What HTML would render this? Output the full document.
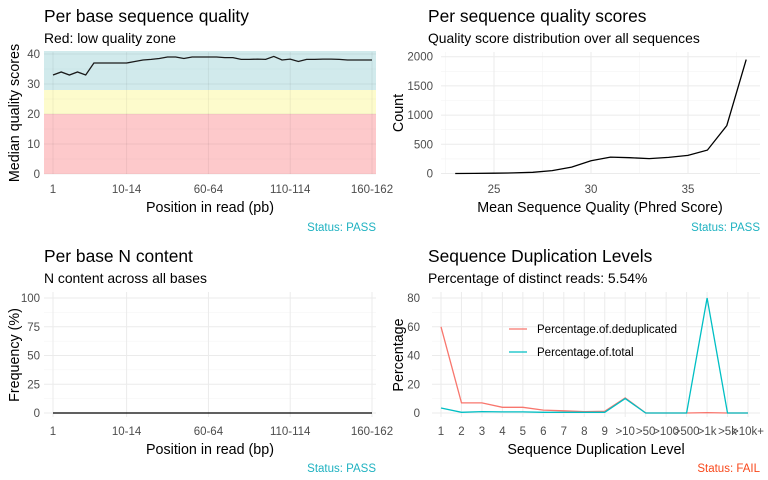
<!DOCTYPE html>
<html><head><meta charset="utf-8">
<style>
html,body{margin:0;padding:0;background:#fff;}
svg{display:block;font-family:"Liberation Sans",sans-serif;}
</style></head>
<body>
<svg id="c" width="768" height="480" viewBox="0 0 768 480"></svg>
<script>
// Panel 1 data
const p1Cats = ["1","2","3","4","5","6","7","8","9","10-14","15-19","20-24","25-29","30-34","35-39","40-44","45-49","50-54","55-59","60-64","65-69","70-74","75-79","80-84","85-89","90-94","95-99","100-104","105-109","110-114","115-119","120-124","125-129","130-134","135-139","140-144","145-149","150-154","155-159","160-162"];
const p1Vals = [33,34,33,34,33,37,37,37,37,37,37.5,38,38.2,38.5,39,39,38.5,39,39,39,39,38.8,38.8,38.2,38.2,38.3,38.2,39.2,38,38.3,37.5,38.2,38.2,38.3,38.3,38.2,38,38,38,38];
const p1TickLabels = ["1","10-14","60-64","110-114","160-162"];
const p1YTicks = [0,10,20,30,40];
// Panel 2 data
const p2X = [23,24,25,26,27,28,29,30,31,32,33,34,35,36,37,38];
const p2Y = [0,2,5,10,20,50,110,220,280,270,255,275,310,400,820,1950];
const p2XTicks = [25,30,35];
const p2YTicks = [0,500,1000,1500,2000];
// Panel 3 data
const p3Vals = p1Cats.map(()=>0);
const p3YTicks = [0,25,50,75,100];
// Panel 4 data
const p4Cats = ["1","2","3","4","5","6","7","8","9",">10",">50",">100",">500",">1k",">5k",">10k+"];
const p4Dedup = [60,7,7,4,4,2,1.5,1,1.2,10.5,0,0,0,0.3,0,0];
const p4Total = [3.5,0.5,1,0.8,0.8,0.5,0.5,0.5,0.5,10,0,0,0,80,0,0];
const p4YTicks = [0,20,40,60,80];

const svg = document.getElementById('c');
const NS = 'http://www.w3.org/2000/svg';
const TS=11.5, ST=13.9, AT=14.3, HT=17.4;
function mk(tag, attrs, parent, text){
  const e = document.createElementNS(NS, tag);
  for (const k in attrs) e.setAttribute(k, attrs[k]);
  if (text !== undefined) e.textContent = text;
  (parent||svg).appendChild(e);
  return e;
}
function txt(x,y,s,size,color,anchor,name,extra){
  const t = mk('text',Object.assign({x:x,y:y,'font-size':size,fill:color,'text-anchor':anchor||'start'},extra||{}),svg,s);
  
  
  return t;
}
function line(x1,y1,x2,y2,stroke,w,name){
  const l = mk('line',{x1:x1,y1:y1,x2:x2,y2:y2,stroke:stroke,'stroke-width':w});
  
  
  return l;
}
function poly(pts,stroke,name){
  const p = mk('polyline',{points:pts.map(q=>q[0].toFixed(1)+','+q[1].toFixed(1)).join(' '),fill:'none',stroke:stroke,'stroke-width':1.3});
  
  
  return p;
}
const GRID='#ebebeb', TICK='#4d4d4d', TEAL='#1fb2c1';

// ---------- Panel 1 ----------
(function(){
  const L=44,R=376,T=52,B=174;
  const x = i => 53 + i*(372-53)/39;
  const y = v => 174 - v*3;
  let r;
  r=mk('rect',{x:L,y:y(41),width:R-L,height:y(28)-y(41),fill:'#d1eaec'});
  
  
  r=mk('rect',{x:L,y:y(28),width:R-L,height:y(20)-y(28),fill:'#fdfbcc'});
  
  
  r=mk('rect',{x:L,y:y(20),width:R-L,height:y(0)-y(20),fill:'#fdc9cb'});
  
  
  [5,15,25,35].forEach(v=>line(L,y(v),R,y(v),'rgba(0,0,0,0.04)',0.6,'minor-gridline'));
  p1YTicks.forEach(v=>{line(L,y(v),R,y(v),'rgba(0,0,0,0.06)',1,'major-gridline'); txt(40,y(v)+4,String(v),TS,TICK,'end','y-tick-label');});
  p1TickLabels.forEach(lbl=>{const i=p1Cats.indexOf(lbl); line(x(i),T,x(i),B,'rgba(0,0,0,0.06)',1,'x-gridline'); txt(x(i),193,lbl,TS,TICK,'middle','x-tick-label');});
  poly(p1Vals.map((v,i)=>[x(i),y(v)]),'#1a1a1a','median-quality-line');
  txt(44,22,'Per base sequence quality',HT,'#000','start','panel1-title');
  txt(44,43,'Red: low quality zone',ST,'#000','start','panel1-subtitle');
  txt(210,212,'Position in read (pb)',AT,'#000','middle','x-axis-title');
  txt(19,113,'Median quality scores',AT,'#000','middle','y-axis-title',{transform:'rotate(-90 19 113)'});
  txt(376,231,'Status: PASS',TS,TEAL,'end','status-pass');
})();

// ---------- Panel 2 ----------
(function(){
  const L=441,R=760,T=52,B=174;
  const x = v => 494 + (v-25)*(688-494)/10;
  const y = v => 173.5 - v*(173.5-56.7)/2000;
  [250,750,1250,1750].forEach(v=>line(L,y(v),R,y(v),'#f3f3f3',0.6,'minor-gridline'));
  [22.5,27.5,32.5,37.5].forEach(v=>line(x(v),T,x(v),B,'#f3f3f3',0.6,'minor-gridline'));
  p2YTicks.forEach(v=>{line(L,y(v),R,y(v),GRID,1,'major-gridline'); txt(433,y(v)+4,String(v),TS,TICK,'end','y-tick-label');});
  p2XTicks.forEach(v=>{line(x(v),T,x(v),B,GRID,1,'x-gridline'); txt(x(v),193,String(v),TS,TICK,'middle','x-tick-label');});
  poly(p2X.map((v,i)=>[x(v),y(p2Y[i])]),'#000','count-line');
  txt(428,22,'Per sequence quality scores',HT,'#000','start','panel2-title');
  txt(428,43,'Quality score distribution over all sequences',ST,'#000','start','panel2-subtitle');
  txt(600,212,'Mean Sequence Quality (Phred Score)',AT,'#000','middle','x-axis-title');
  txt(403,113,'Count',AT,'#000','middle','y-axis-title',{transform:'rotate(-90 403 113)'});
  txt(760,231,'Status: PASS',TS,TEAL,'end','status-pass');
})();

// ---------- Panel 3 ----------
(function(){
  const L=44,R=376,T=292,B=417;
  const x = i => 53 + i*(372-53)/39;
  const y = v => 413 - v*(413-298)/100;
  [12.5,37.5,62.5,87.5].forEach(v=>line(L,y(v),R,y(v),'#f3f3f3',0.6,'minor-gridline'));
  p3YTicks.forEach(v=>{line(L,y(v),R,y(v),GRID,1,'major-gridline'); txt(40,y(v)+4,String(v),TS,TICK,'end','y-tick-label');});
  p1TickLabels.forEach(lbl=>{const i=p1Cats.indexOf(lbl); line(x(i),T,x(i),B,GRID,1,'x-gridline'); txt(x(i),435,lbl,TS,TICK,'middle','x-tick-label');});
  poly(p3Vals.map((v,i)=>[x(i),y(v)]),'#000','n-content-line');
  txt(44,262,'Per base N content',HT,'#000','start','panel3-title');
  txt(44,283,'N content across all bases',ST,'#000','start','panel3-subtitle');
  txt(210,454,'Position in read (bp)',AT,'#000','middle','x-axis-title');
  txt(19,355,'Frequency (%)',AT,'#000','middle','y-axis-title',{transform:'rotate(-90 19 355)'});
  txt(376,472,'Status: PASS',TS,TEAL,'end','status-pass');
})();

// ---------- Panel 4 ----------
(function(){
  const L=432,R=760,T=292,B=417;
  const x = i => 441 + i*(748-441)/15;
  const y = v => 413 - v*(413-298)/80;
  [10,30,50,70].forEach(v=>line(L,y(v),R,y(v),'#f3f3f3',0.6,'minor-gridline'));
  p4YTicks.forEach(v=>{line(L,y(v),R,y(v),GRID,1,'major-gridline'); txt(420,y(v)+4,String(v),TS,TICK,'end','y-tick-label');});
  p4Cats.forEach((c,i)=>{line(x(i),T,x(i),B,GRID,1,'x-gridline'); txt(x(i),435,c,TS,TICK,'middle','x-tick-label');});
  poly(p4Dedup.map((v,i)=>[x(i),y(v)]),'#f8766d','dedup-line');
  poly(p4Total.map((v,i)=>[x(i),y(v)]),'#00bfc4','total-line');
  line(509,329,527,329,'#f8766d',1.3,'legend-dedup-key');
  txt(537,333,'Percentage.of.deduplicated',TS,'#000','start','legend-dedup-label');
  line(509,352,527,352,'#00bfc4',1.3,'legend-total-key');
  txt(537,356,'Percentage.of.total',TS,'#000','start','legend-total-label');
  txt(428,262,'Sequence Duplication Levels',HT,'#000','start','panel4-title');
  txt(428,283,'Percentage of distinct reads: 5.54%',ST,'#000','start','panel4-subtitle');
  txt(596,454,'Sequence Duplication Level',AT,'#000','middle','x-axis-title');
  txt(403,355,'Percentage',AT,'#000','middle','y-axis-title',{transform:'rotate(-90 403 355)'});
  txt(760,472,'Status: FAIL',TS,'#f8481c','end','status-fail');
})();
</script>
</body></html>
